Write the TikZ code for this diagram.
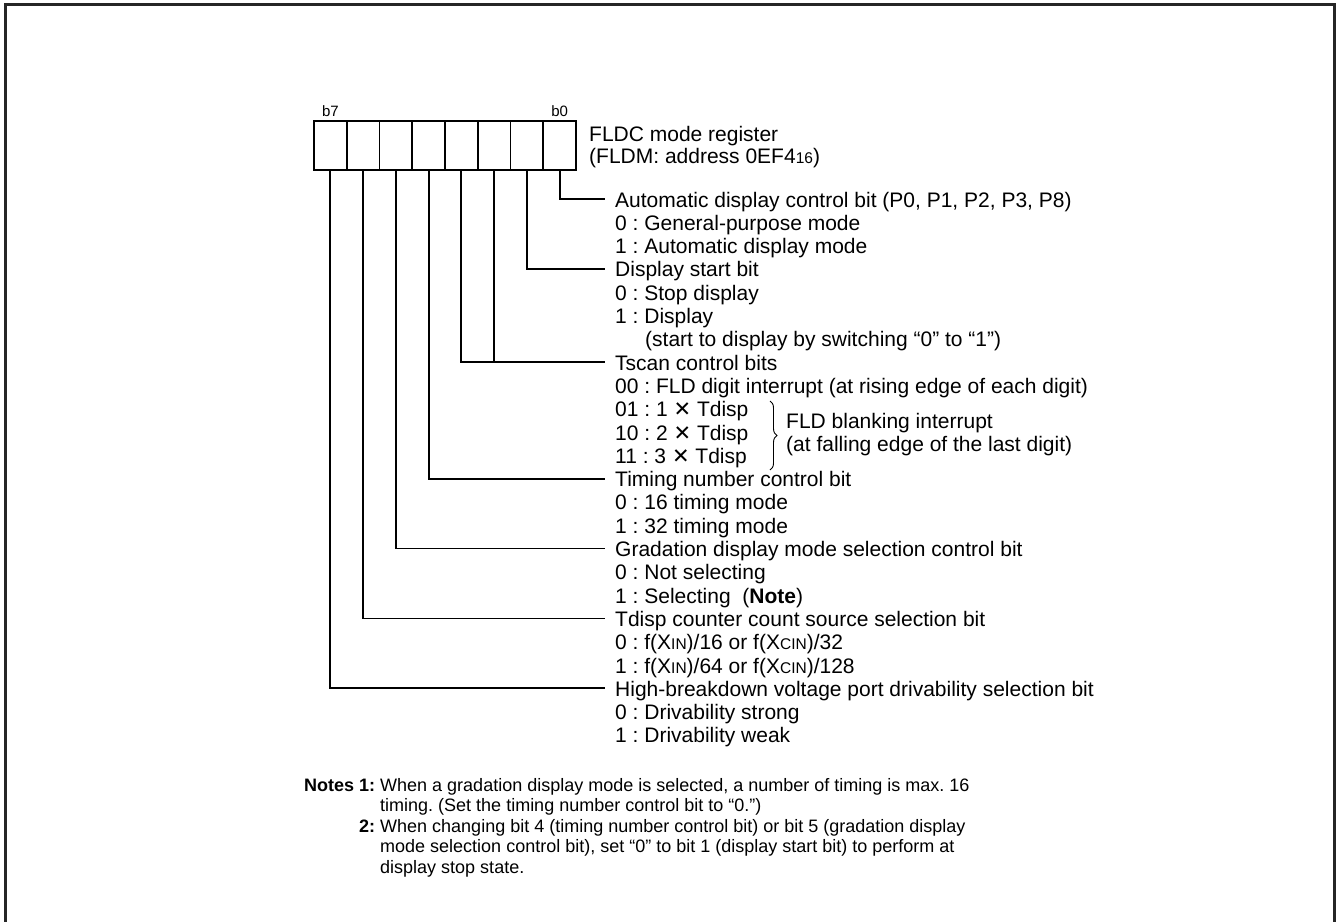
\documentclass[tikz,border=0pt]{standalone}
\usepackage{fontspec}
\setmainfont{Liberation Sans}
\newfontfamily\symfont{DejaVu Sans}
\usetikzlibrary{decorations.pathreplacing}

\newcommand\lowtxt[1]{{\fontsize{15.5}{15.5}\selectfont #1}}
\newcommand\timesx{{\fontsize{21}{21}\symfont ✕}}
\frenchspacing

\begin{document}
\begin{tikzpicture}[
  x=1pt, y=-1pt,
  cell/.style={draw, line width=1.8pt, minimum width=32.75pt,
               minimum height=49pt, inner sep=0pt},
  desc/.style={anchor=base west, inner xsep=10pt, inner ysep=0pt,
               font=\fontsize{21}{23.3}\selectfont},
  bitlbl/.style={anchor=base, inner sep=0pt, font=\fontsize{15}{15}\selectfont},
  note/.style={anchor=base west, inner sep=0pt, font=\fontsize{18}{20.6}\selectfont},
  lead/.style={line width=1.8pt},
  brace/.style={decorate, decoration={brace, amplitude=7pt}, line width=0.9pt},
  frame/.style={line width=3pt, draw=black!85}
]
  \useasboundingbox (0,0) rectangle (1338,921);
  \draw[frame] (5,930) |- (1334,4) -- (1334,930);

  % register cells, b7 on the left
  \foreach \i in {0,...,7}
    \node[cell] (c\i) at ({576-16.375-32.75*\i}, 145.5) {};
  \node[bitlbl] (b7) at ([yshift=4pt]c7.north) {b7};
  \node[bitlbl] (b0) at ([yshift=4pt]c0.north) {b0};
  \node[desc, inner xsep=0pt] (reg) at (589,141)
    {\fontsize{21}{22}\selectfont
     \begin{tabular}[t]{@{}l@{}}FLDC mode register\\(FLDM: address 0EF4\lowtxt{16})\end{tabular}};

  % bit descriptions
  \node[desc] (d0) at (605,207) {\begin{tabular}[t]{@{}l@{}}
    Automatic display control bit (P0, P1, P2, P3, P8)\\
    0 : General-purpose mode\\
    1 : Automatic display mode\end{tabular}};
  \node[desc] (d1) at (605,276.9) {\begin{tabular}[t]{@{}l@{}}
    Display start bit\\
    0 : Stop display\\
    1 : Display\\
    \hspace*{30pt}(start to display by switching “0” to “1”)\end{tabular}};
  \node[desc] (d2) at (605,370.1) {\begin{tabular}[t]{@{}l@{}}
    Tscan control bits\\
    00 : FLD digit interrupt (at rising edge of each digit)\\
    01 : 1 \timesx{} Tdisp\\
    10 : 2 \timesx{} Tdisp\\
    11 : 3 \timesx{} Tdisp\end{tabular}};
  \node[desc] (d3) at (605,486.6) {\begin{tabular}[t]{@{}l@{}}
    Timing number control bit\\
    0 : 16 timing mode\\
    1 : 32 timing mode\end{tabular}};
  \node[desc] (d4) at (605,556.5) {\begin{tabular}[t]{@{}l@{}}
    Gradation display mode selection control bit\\
    0 : Not selecting\\
    1 : Selecting\ \ (\textbf{Note})\end{tabular}};
  \node[desc] (d5) at (605,626.4) {\begin{tabular}[t]{@{}l@{}}
    Tdisp counter count source selection bit\\
    0 : f(X\lowtxt{IN})/16 or f(X\lowtxt{CIN})/32\\
    1 : f(X\lowtxt{IN})/64 or f(X\lowtxt{CIN})/128\end{tabular}};
  \node[desc] (d6) at (605,696.3) {\begin{tabular}[t]{@{}l@{}}
    High-breakdown voltage port drivability selection bit\\
    0 : Drivability strong\\
    1 : Drivability weak\end{tabular}};

  % blanking interrupt brace
  \draw[brace] (770,401) -- (770,470);
  \node[desc] (blank) at (776,428.4) {\begin{tabular}[t]{@{}l@{}}
    FLD blanking interrupt\\
    (at falling edge of the last digit)\end{tabular}};

  % leads
  \foreach \i in {0,...,6}
    \coordinate (p\i) at ([yshift=8pt]d\i.base west);
  \draw[lead] (c0.south) |- (p0);
  \draw[lead] (c1.south) |- (p1);
  \draw[lead] (c3.south) |- (p2);
  \draw[lead] (c2.south) -- (c2.south |- p2);
  \draw[lead] (c4.south) |- (p3);
  \draw[lead] (c5.south) |- (p4);
  \draw[lead] (c6.south) |- (p5);
  \draw[lead] (c7.south) |- (p6);

  % notes
  \node[note] (notes) at (304,791) {\begin{tabular}[t]{@{}r@{ }l@{}}
    \textbf{Notes 1:} & When a gradation display mode is selected, a number of timing is max. 16\\
     & timing. (Set the timing number control bit to “0.”)\\
    \textbf{2:} & When changing bit 4 (timing number control bit) or bit 5 (gradation display\\
     & mode selection control bit), set “0” to bit 1 (display start bit) to perform at\\
     & display stop state.\end{tabular}};
\end{tikzpicture}
\end{document}
